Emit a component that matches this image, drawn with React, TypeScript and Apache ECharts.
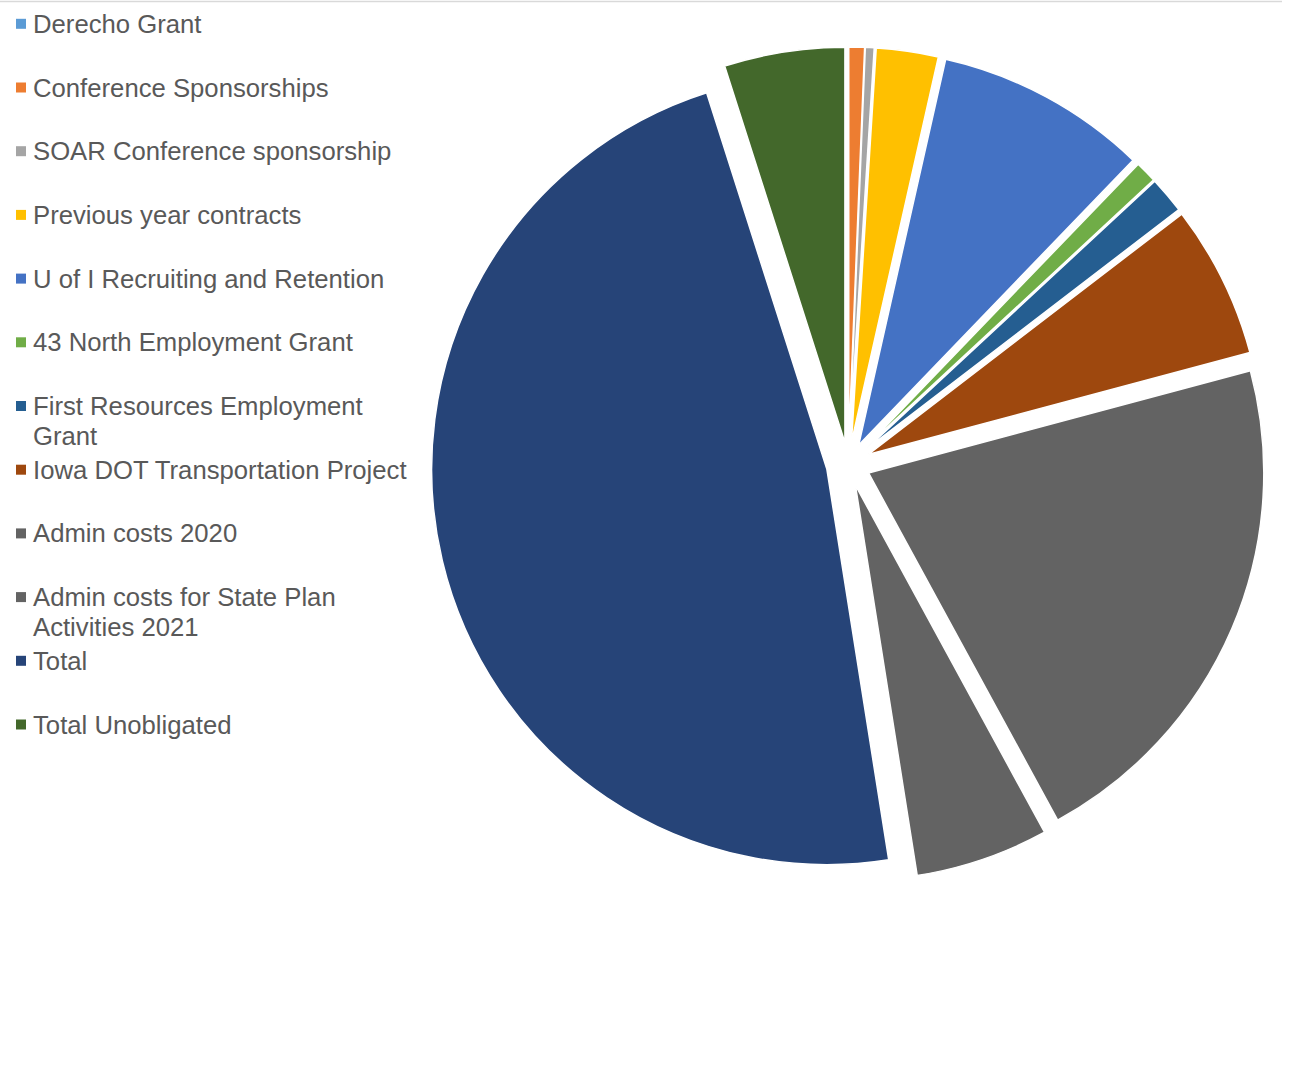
import React, { useEffect, useRef } from 'react';
import * as echarts from 'echarts';

// ---- data (shares of the pie) ----
const categories: string[] = [
  'Derecho Grant',
  'Conference Sponsorships',
  'SOAR Conference sponsorship',
  'Previous year contracts',
  'U of I Recruiting and Retention',
  '43 North Employment Grant',
  'First Resources Employment Grant',
  'Iowa DOT Transportation Project',
  'Admin costs 2020',
  'Admin costs for State Plan Activities 2021',
  'Total',
  'Total Unobligated',
];
const shares: number[] = [0, 0.64, 0.36, 2.53, 8.67, 0.89, 1.5, 6.25, 21.22, 5.44, 47.58, 4.92];

// ---- styles ----
const sliceColors: string[] = [
  '#5B9BD5', '#ED7D31', '#A5A5A5', '#FFC000', '#4472C4', '#70AD47',
  '#255E91', '#9E480E', '#636363', '#636363', '#264478', '#43682B',
];
const legendWraps: Record<string, [string, string]> = {
  'First Resources Employment Grant': ['First Resources Employment', 'Grant'],
  'Admin costs for State Plan Activities 2021': ['Admin costs for State Plan', 'Activities 2021'],
};
const FONT = '"Liberation Sans", Arial, Helvetica, sans-serif';
const LINE_H = 30;
const LEGEND_STEP = 63.7;
const FIRST_ICON_CENTER = 24.3;

export default function App() {
  const ref = useRef<HTMLDivElement>(null);
  useEffect(() => {
    if (!ref.current) return;
    const chart = echarts.init(ref.current, undefined, { renderer: 'svg' });
    chart.setOption({
      animation: false,
      backgroundColor: '#ffffff',
      legend: {
        orient: 'vertical',
        left: 16,
        top: FIRST_ICON_CENTER - (3 * LINE_H) / 2 - 0.5,
        padding: 0,
        itemGap: LEGEND_STEP - 3 * LINE_H,
        itemWidth: 10,
        itemHeight: 10,
        icon: 'rect',
        itemStyle: { borderWidth: 0 },
        selectedMode: false,
        data: categories,
        formatter: (name: string) => {
          const w = legendWraps[name];
          return w ? '\n' + w[0] + '\n' + w[1] : '\n' + name + '\n';
        },
        textStyle: {
          fontFamily: FONT,
          fontSize: 25.7,
          color: '#595959',
          lineHeight: LINE_H,
          padding: [0, 0, 0, 2],
        },
      },
      graphic: [
        {
          type: 'line',
          shape: { x1: 0, y1: 1.5, x2: 1282, y2: 1.5 },
          style: { stroke: '#D9D9D9', lineWidth: 1.5 },
          silent: true,
        },
      ],
      series: [
        {
          type: 'pie',
          center: [848.3, 464.3],
          radius: 395.3,
          startAngle: 90,
          clockwise: true,
          selectedMode: 'multiple',
          selectedOffset: 22,
          avoidLabelOverlap: false,
          label: { show: false },
          labelLine: { show: false },
          emphasis: { disabled: true },
          itemStyle: { borderColor: '#ffffff', borderWidth: 1.5 },
          select: { itemStyle: { borderColor: '#ffffff', borderWidth: 1.5 } },
          data: categories.map((name, i) => ({
            name,
            value: shares[i],
            selected: true,
            itemStyle: { color: sliceColors[i] },
            select: { itemStyle: { color: sliceColors[i] } },
          })),
        },
      ],
    });
    return () => chart.dispose();
  }, []);
  return (
    <div
      ref={ref}
      style={{ position: 'absolute', left: 0, top: 0, width: 1290, height: 1091 }}
    />
  );
}
